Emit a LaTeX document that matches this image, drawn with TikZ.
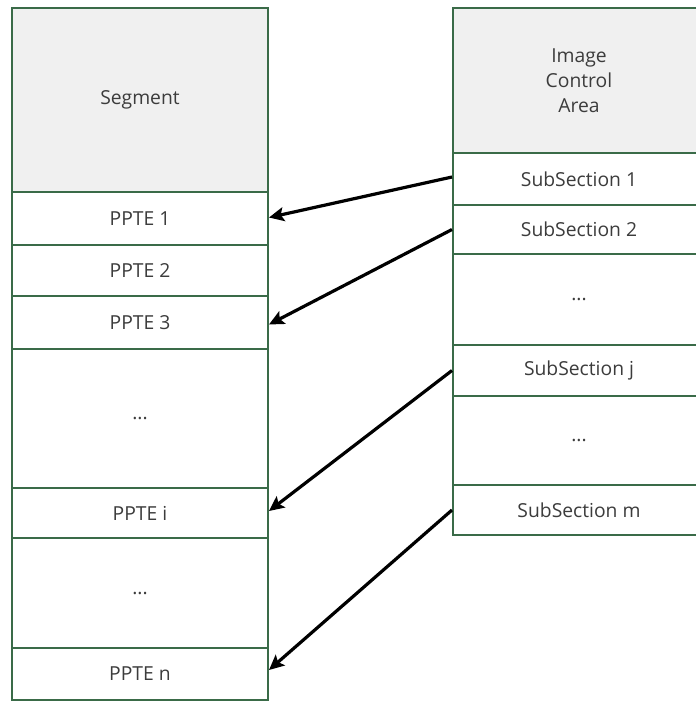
\documentclass[tikz,border=0pt]{standalone}
\usepackage{fontspec}
\setmainfont{Open Sans}
\usetikzlibrary{arrows.meta}
\definecolor{cellline}{HTML}{3A6B48}
\definecolor{headfill}{HTML}{F0F0F0}
\definecolor{celltext}{HTML}{3C3C3C}
\tikzset{
  cell/.style={draw=cellline, line width=2pt, rectangle, inner sep=0pt,
    fill=white, text=celltext, align=center,
    font=\fontsize{19.3}{25}\selectfont},
  leftcell/.style={cell, minimum width=256pt},
  rightcell/.style={cell, minimum width=252pt},
  head/.style={fill=headfill},
  link/.style={line width=3.2pt, black, -{Stealth[length=15pt, width=14pt, inset=3pt]}}
}
\begin{document}
\begin{tikzpicture}[x=1pt, y=-1pt]
  \useasboundingbox (0,0) rectangle (696,702);
  \clip (0,0) rectangle (696,702);
  % segment column
  \node[leftcell, head, minimum height=184pt] (seg) at (140,100) {Segment};
  \node[leftcell, minimum height=53pt]  (p1)  at (140,218.5) {PPTE 1};
  \node[leftcell, minimum height=51pt]  (p2)  at (140,270.5) {PPTE 2};
  \node[leftcell, minimum height=53pt]  (p3)  at (140,322.5) {PPTE 3};
  \node[leftcell, minimum height=139pt] (pd1) at (140,418.5) {...};
  \node[leftcell, minimum height=50pt]  (pi)  at (140,513)   {PPTE i};
  \node[leftcell, minimum height=110pt] (pd2) at (140,593)   {...};
  \node[leftcell, minimum height=52pt]  (pn)  at (140,674)   {PPTE n};
  % image control area column
  \node[rightcell, head, minimum height=145pt] (ica) at (579,80.5) {Image\\Control\\Area};
  \node[rightcell, minimum height=52pt] (s1)  at (579,179)   {SubSection 1};
  \node[rightcell, minimum height=49pt] (s2)  at (579,229.5) {SubSection 2};
  \node[rightcell, minimum height=91pt] (sd1) at (579,299.5) {...};
  \node[rightcell, minimum height=51pt] (sj)  at (579,370.5) {SubSection j};
  \node[rightcell, minimum height=89pt] (sd2) at (579,440.5) {...};
  \node[rightcell, minimum height=50pt] (sm)  at (579,510)   {SubSection m};
  % references from subsections to page table entries
  \draw[link] ([yshift=2pt]s1.west) -- ([yshift=1pt]p1.east);
  \draw[link] (s2.west) -- ([yshift=-2pt]p3.east);
  \draw[link] (sj.west) -- ([yshift=2pt]pi.east);
  \draw[link] (sm.west) -- ([yshift=4pt]pn.east);
\end{tikzpicture}
\end{document}
